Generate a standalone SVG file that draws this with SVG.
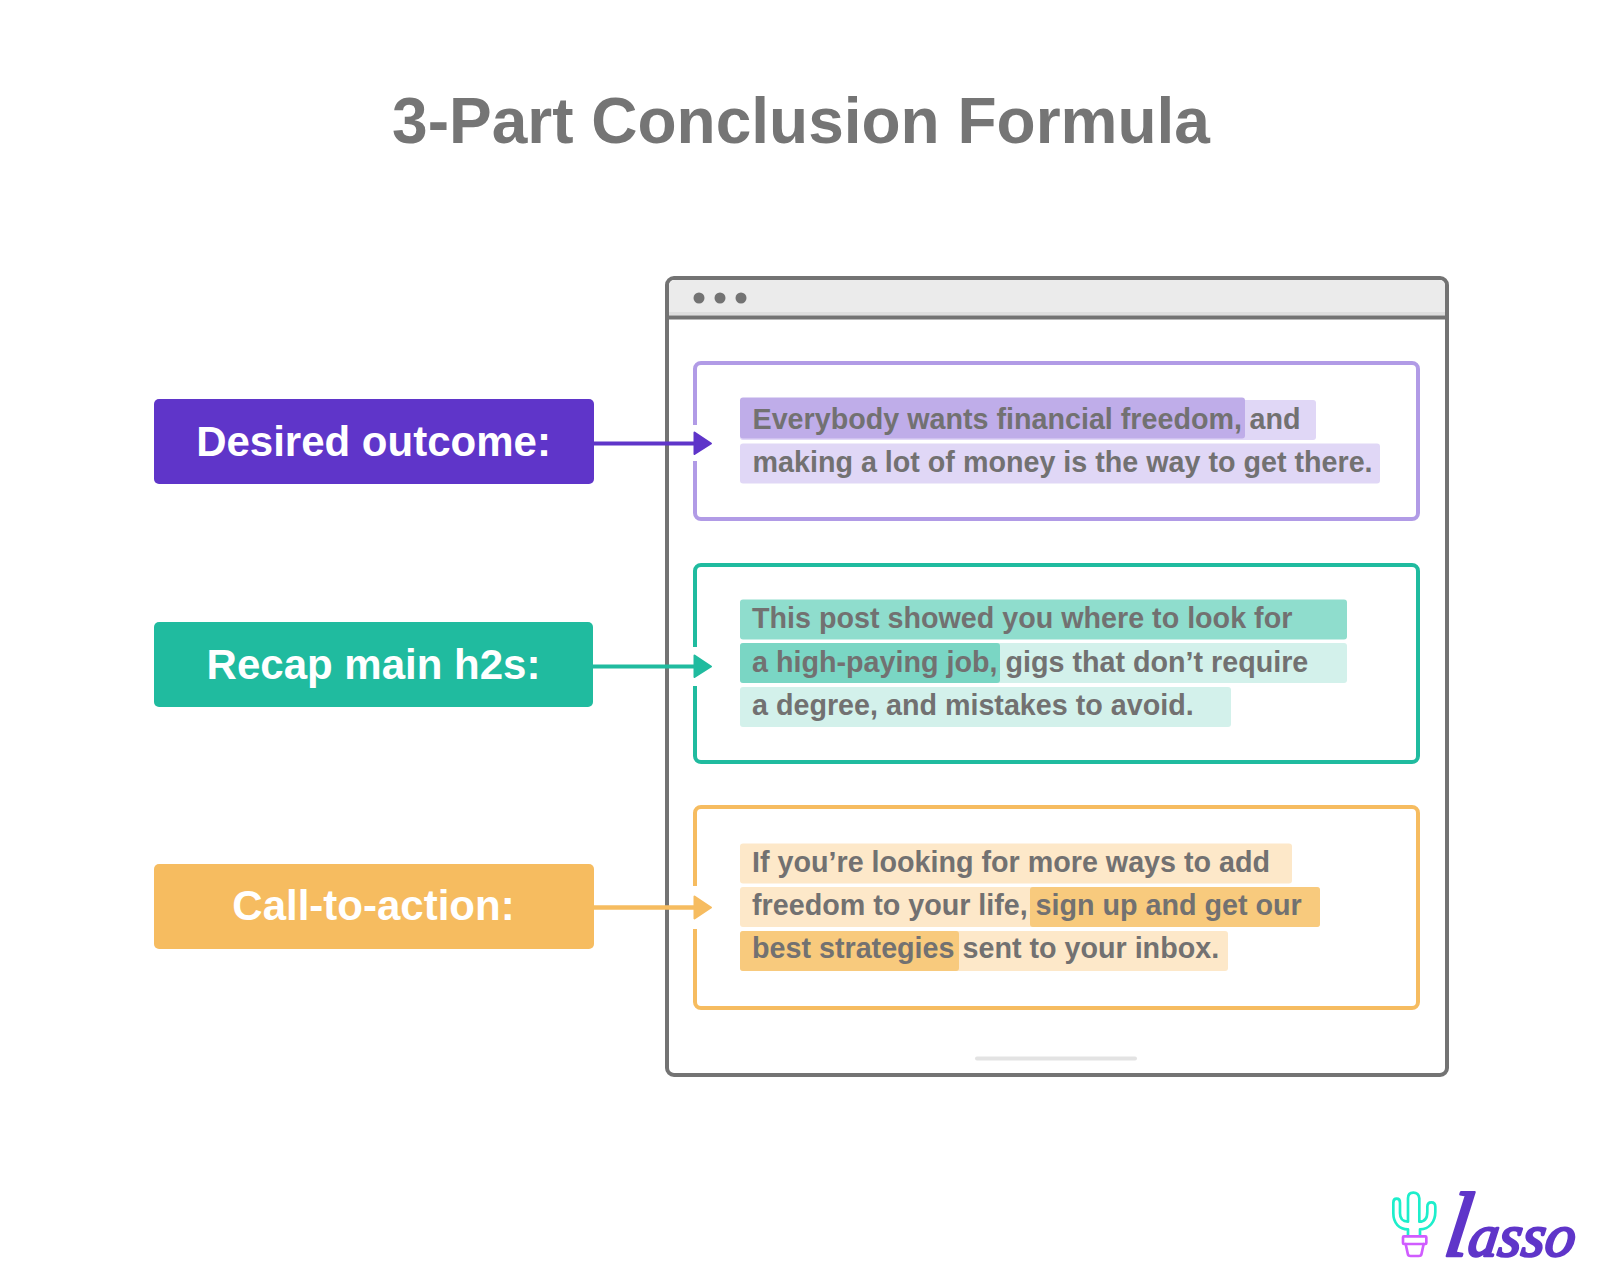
<svg xmlns="http://www.w3.org/2000/svg" width="1600" height="1276" viewBox="0 0 1600 1276">
<style>
text{font-family:"Liberation Sans",Arial,sans-serif;font-weight:700}
.t{font-size:28.700px;fill:#727171}
.l{font-size:42px;fill:#fff;text-anchor:middle}
.box{fill:#fff;stroke-width:4}
.gap{fill:#fff}
</style>
<rect width="1600" height="1276" fill="#fff"/>
<text id="title" x="801" y="143" font-size="64" fill="#757575" text-anchor="middle">3-Part Conclusion Formula</text>
<g id="window">
<rect x="667" y="278" width="780" height="797" rx="7" fill="#fff" stroke="#737373" stroke-width="4"/>
<path d="M669 317V286a6 6 0 0 1 6-6H1439a6 6 0 0 1 6 6V317Z" fill="#ebebeb"/>
<rect x="669" y="312" width="776" height="3" fill="#dedede"/>
<rect x="667" y="315.500" width="780" height="4" fill="#737373"/>
<circle cx="699" cy="298" r="5.500" fill="#737373"/><circle cx="720" cy="298" r="5.500" fill="#737373"/><circle cx="741" cy="298" r="5.500" fill="#737373"/>
<rect x="975" y="1056.500" width="162" height="4" rx="2" fill="#e3e3e3"/>
</g>
<g id="panel-outcome">
<rect class="box" x="695" y="363" width="723" height="156" rx="6" stroke="#b19be6"/>
<rect class="gap" x="692" y="425" width="6" height="36"/>
<rect x="740" y="400" width="576" height="40" rx="3" fill="#e0d7f6"/>
<rect x="740" y="443.500" width="640" height="40" rx="3" fill="#e0d7f6"/>
<rect x="740" y="397.500" width="505" height="41" rx="3" fill="#bfade9"/>
<text class="t" x="752.500" y="429">Everybody wants financial freedom,</text>
<text class="t" x="1249.500" y="429">and</text>
<text class="t" x="752.500" y="472">making a lot of money is the way to get there.</text>
</g>
<g id="panel-recap">
<rect class="box" x="695" y="565" width="723" height="197" rx="6" stroke="#20bb9f"/>
<rect class="gap" x="692" y="647" width="6" height="39"/>
<rect x="740" y="599.500" width="607" height="40" rx="3" fill="#8fddcd"/>
<rect x="740" y="643" width="607" height="40" rx="3" fill="#d3f1eb"/>
<rect x="740" y="643" width="260" height="40" rx="3" fill="#7ad6c4"/>
<rect x="740" y="687" width="491" height="40" rx="3" fill="#d3f1eb"/>
<text class="t" x="752" y="628">This post showed you where to look for</text>
<text class="t" x="752" y="671.500">a high-paying job,</text>
<text class="t" x="1005.500" y="671.500">gigs that don’t require</text>
<text class="t" x="752" y="714.500">a degree, and mistakes to avoid.</text>
</g>
<g id="panel-cta">
<rect class="box" x="695" y="807" width="723" height="201" rx="6" stroke="#f6bc60"/>
<rect class="gap" x="692" y="886" width="6" height="43"/>
<rect x="740" y="843.500" width="552" height="40" rx="3" fill="#fde8c9"/>
<rect x="740" y="887" width="580" height="40" rx="3" fill="#fde8c9"/>
<rect x="1030" y="887" width="290" height="40" rx="3" fill="#f8ca7d"/>
<rect x="740" y="931" width="488" height="40" rx="3" fill="#fde8c9"/>
<rect x="740" y="931" width="219" height="40" rx="3" fill="#f8ca7d"/>
<text class="t" x="752" y="871.500">If you’re looking for more ways to add</text>
<text class="t" x="752" y="914.500">freedom to your life,</text>
<text class="t" x="1035.500" y="914.500">sign up and get our</text>
<text class="t" x="752" y="957.500">best strategies</text>
<text class="t" x="962.500" y="957.500">sent to your inbox.</text>
</g>
<g id="connectors">
<path d="M593 443.500H696" stroke="#5f35c9" stroke-width="4" fill="none"/>
<path d="M694.500 432.500L711 443.500L694.500 454Z" fill="#5f35c9" stroke="#5f35c9" stroke-width="2" stroke-linejoin="round"/>
<path d="M593 666.500H696" stroke="#20bb9f" stroke-width="4" fill="none"/>
<path d="M694.500 655.500L711 666.500L694.500 677Z" fill="#20bb9f" stroke="#20bb9f" stroke-width="2" stroke-linejoin="round"/>
<path d="M593 907.500H696" stroke="#f6bc60" stroke-width="4.500" fill="none"/>
<path d="M694.500 896.500L711 907.500L694.500 918.500Z" fill="#f6bc60" stroke="#f6bc60" stroke-width="2" stroke-linejoin="round"/>
</g>
<g id="label-outcome"><rect x="154" y="399" width="440" height="85" rx="5" fill="#5f35c9"/><text class="l" x="373.500" y="456">Desired outcome:</text></g>
<g id="label-recap"><rect x="154" y="622" width="439" height="85" rx="5" fill="#20bb9f"/><text class="l" x="373.500" y="679">Recap main h2s:</text></g>
<g id="label-cta"><rect x="154" y="864" width="440" height="85" rx="5" fill="#f6bc60"/><text class="l" x="373.500" y="920">Call-to-action:</text></g>
<g id="logo">
<g transform="translate(1370 1170) scale(.3333)" fill="none" stroke-linecap="round" stroke-linejoin="round" stroke-width="8">
<path d="M114 198V178C88 178 70 160 70 130V98Q70 86 80 86T90 98V130C90 148 100 155 114 155V85Q114 68 130 68T148 85V155C165 155 172 145 172 125V110Q172 97 184 97T196 110V125C196 155 178 178 150 178V198" stroke="#1deecb"/>
<rect x="99" y="199" width="70" height="23" rx="3" stroke="#d05cff"/>
<path d="M107 222L113 250Q114 258 122 258H146Q154 258 155 250L161 222" stroke="#d05cff"/>
</g>
<text transform="translate(1442 1256) skewX(-8)" font-size="92" style="font-family:'Liberation Serif',serif;font-style:italic;font-weight:400" fill="#5f35c9" stroke="#5f35c9" stroke-width="2.500" stroke-linejoin="round">l<tspan font-size="60" dx="-1">asso</tspan></text>
</g>
</svg>
